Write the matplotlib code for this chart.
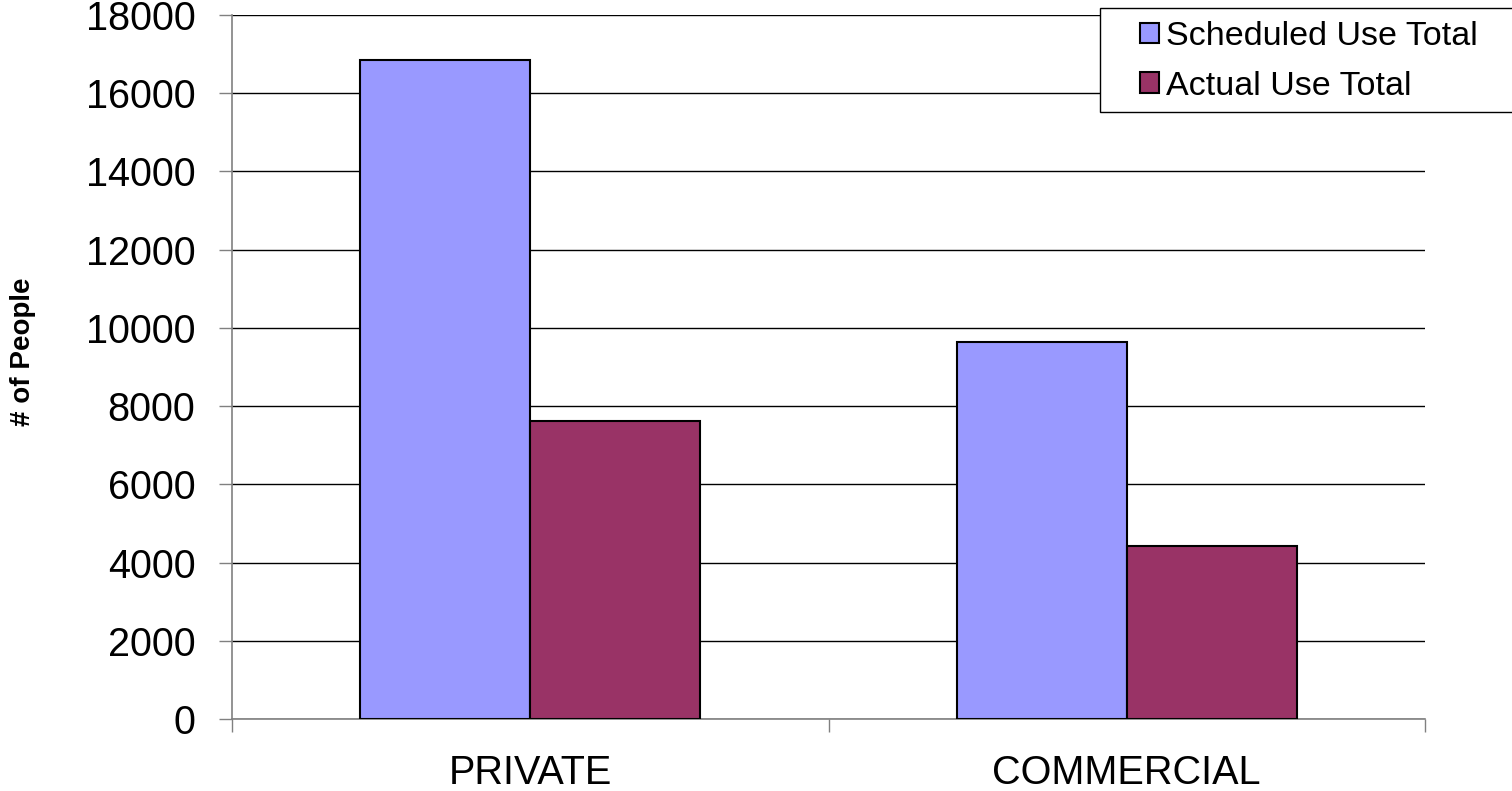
import numpy as np
import matplotlib.pyplot as plt
from matplotlib.patches import Rectangle

plt.rcParams['font.family'] = ['Liberation Sans', 'DejaVu Sans']

categories = ['PRIVATE', 'COMMERCIAL']
scheduled = [16850, 9640]
actual = [7620, 4420]
series_names = ['Scheduled Use Total', 'Actual Use Total']
colors = ['#9999FF', '#993366']

fig = plt.figure(figsize=(15.12, 7.91), dpi=100)
ax = fig.add_axes([232 / 1512, 1 - 719 / 791, (1425 - 232) / 1512, (719 - 15) / 791])

x = np.arange(len(categories))
w = 0.285
ax.bar(x - w / 2, scheduled, w, color=colors[0], edgecolor='black', linewidth=1.5,
       label=series_names[0], zorder=3)
ax.bar(x + w / 2, actual, w, color=colors[1], edgecolor='black', linewidth=1.5,
       label=series_names[1], zorder=3)

ax.set_xlim(-0.5, 1.5)
ax.set_ylim(0, 18000)
ax.set_yticks(np.arange(0, 18001, 2000))
ax.set_xticks(x)
ax.set_xticklabels(categories, fontsize=28.5)
ax.set_xticks([-0.5, 0.5, 1.5], minor=True)
ax.tick_params(axis='x', which='major', length=0, pad=25)
ax.tick_params(axis='x', which='minor', length=9.4, color='#808080', width=1)
ax.tick_params(axis='y', labelsize=28.5, length=9.4, color='#808080', width=1, pad=17)
ax.yaxis.grid(True, color='black', linewidth=1, zorder=0)

for s in ['top', 'right']:
    ax.spines[s].set_visible(False)
for s in ['left', 'bottom']:
    ax.spines[s].set_color('#808080')
    ax.spines[s].set_linewidth(1.2)

fig.text(23 / 1512, 1 - 352 / 791, '# of People', rotation=90, fontsize=20,
         fontweight='bold', ha='center', va='center')

# legend frame runs off the right edge like the original
fig.patches.append(Rectangle((1100 / 1512, 1 - 112 / 791), 420 / 1512, 104 / 791,
                             transform=fig.transFigure, facecolor='white',
                             edgecolor='black', linewidth=1, zorder=5))
leg = fig.legend(loc='upper left', bbox_to_anchor=(1140 / 1512, 1 - 21 / 791),
                 fontsize=24.5, frameon=False,
                 handlelength=0.55, handleheight=0.55, handletextpad=0.2,
                 labelspacing=0.55, borderpad=0, borderaxespad=0)
leg.set_zorder(6)
for h in leg.legend_handles:
    h.set_linewidth(1.5)

fig.savefig('out.png', dpi=100)
